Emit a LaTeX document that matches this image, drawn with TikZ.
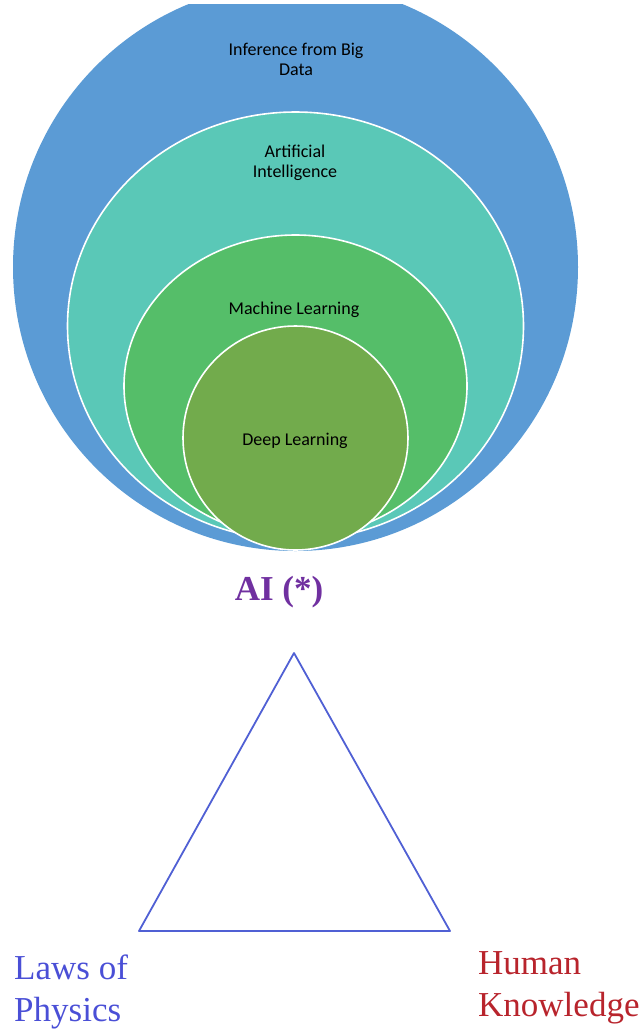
\documentclass[tikz,border=0pt]{standalone}
\usepackage{fontspec}
\setmainfont{Liberation Serif}
\newfontfamily\calibri{Carlito}
\usepackage{tikz}

\definecolor{bigdata}{HTML}{5B9BD5}
\definecolor{artint}{HTML}{5AC8B7}
\definecolor{machlearn}{HTML}{55BE69}
\definecolor{deeplearn}{HTML}{72AB4C}
\definecolor{aipurple}{HTML}{7030A0}
\definecolor{physblue}{HTML}{4A4FD6}
\definecolor{humanred}{HTML}{B8242C}
\definecolor{triblue}{HTML}{5060D4}

\begin{document}
\begin{tikzpicture}[
        x=1pt, y=-1pt,
        ring/.style={draw=white, line width=1.6pt},
        ringtext/.style={font=\calibri\fontsize{18}{20}\selectfont, text=black, align=center, inner sep=0pt},
        sidetext/.style={font=\fontsize{35}{42}\selectfont, align=left, inner sep=0pt, anchor=west}
    ]
        \useasboundingbox (0,0) rectangle (643,1029);

        \begin{scope}
            \clip (0,4) rectangle (643,1029);
            \fill[bigdata] (295.5,267) ellipse [x radius=282.5, y radius=284];
        \end{scope}
        \filldraw[ring, fill=artint] (295.5,326) ellipse [x radius=228, y radius=214];
        \filldraw[ring, fill=machlearn] (295.5,386) ellipse [x radius=171.5, y radius=151];
        \filldraw[ring, fill=deeplearn] (295.5,438) ellipse [x radius=112.5, y radius=112];

        \node[ringtext] (bd) at (296,59) {Inference from Big\\Data};
        \node[ringtext] (ai) at (295,163) {Artificial\\Intelligence};
        \node[ringtext] (ml) at (294,310) {Machine Learning};
        \node[ringtext] (dl) at (295,441) {Deep Learning};

        \node[font=\bfseries\fontsize{35}{42}\selectfont, text=aipurple, anchor=base, inner sep=0pt] (aistar) at (279,600) {AI (*)};

        \coordinate (apex) at (294,653);
        \coordinate (left) at (139,931);
        \coordinate (right) at (450,931);
        \draw[triblue, line width=1.8pt, line join=round] (apex) -- (left) -- (right) -- cycle;

        \node[sidetext, text=physblue] (phys) at (14,992) {Laws of\\Physics};
        \node[sidetext, text=humanred] (human) at (478,988) {Human\\Knowledge};
    \end{tikzpicture}
\end{document}
